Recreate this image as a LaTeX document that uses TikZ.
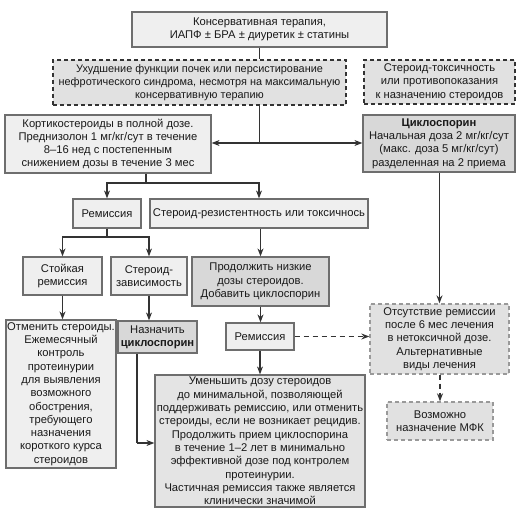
\documentclass[tikz,border=0pt]{standalone}
\usepackage{fontspec}
\setmainfont{Liberation Sans}
\usetikzlibrary{arrows.meta}
\definecolor{lightfill}{HTML}{EFEFEF}
\definecolor{darkfill}{HTML}{D8D8D8}
\definecolor{midfill}{HTML}{E4E4E4}
\definecolor{dashfill}{HTML}{E1E1E1}
\definecolor{bordergray}{HTML}{6E6E6E}
\definecolor{linecol}{HTML}{333333}
\begin{document}
\begin{tikzpicture}[x=1pt,y=-1pt,
  font=\fontsize{11.2}{13.3}\selectfont,
  every node/.style={inner sep=0pt,align=center,text=black!90},
  lbox/.style={draw=bordergray,line width=1.2pt,fill=lightfill},
  dbox/.style={draw=bordergray,line width=1.2pt,fill=darkfill},
  mbox/.style={draw=bordergray,line width=1.2pt,fill=midfill},
  dashbox/.style={draw=linecol,line width=1.3pt,fill=dashfill,dash pattern=on 4pt off 3pt},
  graydash/.style={draw=gray!80,line width=1.3pt,fill=dashfill,dash pattern=on 4pt off 3pt},
  conn/.style={draw=linecol,line width=1.2pt},
  arr/.style={conn,-{Stealth[length=8pt,width=6pt]}},
  darr/.style={arr,dash pattern=on 5pt off 4pt}]
\useasboundingbox (0,0) rectangle (531,519);

\node[lbox,minimum width=255pt,minimum height=35pt] (top) at (259.5,29.5)
  {Консервативная терапия,\\ИАПФ ± БРА ± диуретик ± статины};
\node[dashbox,minimum width=293pt,minimum height=45pt,font=\fontsize{10.9}{13.3}\selectfont] (d1) at (199.5,82.5)
  {Ухудшение функции почек или персистирование\\нефротического синдрома, несмотря на максимальную\\консервативную терапию};
\node[dashbox,minimum width=151pt,minimum height=44pt] (d2) at (439.5,82)
  {Стероид-токсичность\\или противопоказания\\к назначению стероидов};
\node[lbox,minimum width=206pt,minimum height=58pt] (cort) at (108,144)
  {Кортикостероиды в полной дозе.\\Преднизолон 1 мг/кг/сут в течение\\8–16 нед с постепенным\\снижением дозы в течение 3 мес};
\node[dbox,minimum width=152pt,minimum height=57pt] (cyc) at (439,143.5)
  {\textbf{Циклоспорин}\\Начальная доза 2 мг/кг/сут\\(макс. доза 5 мг/кг/сут)\\разделенная на 2 приема};
\node[lbox,minimum width=68pt,minimum height=29pt] (rem1) at (107,213.5) {Ремиссия};
\node[lbox,minimum width=218pt,minimum height=29pt] (res) at (259,213.5) {Стероид-резистентность или токсичнось};
\node[lbox,minimum width=79pt,minimum height=38pt] (stoy) at (62.5,276) {Стойкая\\ремиссия};
\node[lbox,minimum width=76pt,minimum height=38pt] (zav) at (149,276) {Стероид-\\зависимость};
\node[dbox,minimum width=137pt,minimum height=49pt] (cont) at (260.5,281.5)
  {Продолжить низкие\\дозы стероидов.\\Добавить циклоспорин};
\node[lbox,minimum width=110pt,minimum height=148pt] (otm) at (61,394)
  {Отменить стероиды.\\Ежемесячный\\контроль\\протеинурии\\для выявления\\возможного\\обострения,\\требующего\\назначения\\короткого курса\\стероидов};
\node[dbox,minimum width=79pt,minimum height=32pt] (naz) at (157.5,337) {Назначить\\\textbf{циклоспорин}};
\node[lbox,minimum width=68pt,minimum height=27pt] (rem2) at (260,336.5) {Ремиссия};
\node[graydash,minimum width=139pt,minimum height=70pt] (alt) at (439.5,339)
  {Отсутствие ремиссии\\после 6 мес лечения\\в нетоксичной дозе.\\Альтернативные\\виды лечения};
\node[graydash,minimum width=106pt,minimum height=38pt] (mfk) at (440,421) {Возможно\\назначение МФК};
\node[mbox,minimum width=210pt,minimum height=132pt] (bot) at (260,441)
  {Уменьшить дозу стероидов\\до минимальной, позволяющей\\поддерживать ремиссию, или отменить\\стероиды, если не возникает рецидив.\\Продолжить прием циклоспорина\\в течение 1–2 лет в минимально\\эффективной дозе под контролем\\протеинурии.\\Частичная ремиссия также является\\клинически значимой};

\coordinate (j) at (259.5,143);
\coordinate (c1) at (146,183);
\coordinate (c2) at (107,237);
\coordinate (c3) at (137,443);

\draw[conn] (top.south) -- (top.south |- d1.north);
\draw[conn] (d1.south -| j) -- (j);
\draw[arr] (j) -- (j -| cort.east);
\draw[arr] (j) -- (j -| cyc.west);
\draw[conn] (cort.south -| c1) -- (c1);
\draw[arr] (c1) -| (rem1.north);
\draw[arr] (c1) -| (res.north);
\draw[conn] (rem1.south) -- (c2);
\draw[arr] (c2) -| (stoy.north);
\draw[arr] (c2) -| (zav.north);
\draw[arr] (res.south -| cont.north) -- (cont.north);
\draw[arr] (stoy.south) -- (stoy.south |- otm.north);
\draw[arr] (zav.south) -- (zav.south |- naz.north);
\draw[arr] (cont.south) -- (cont.south |- rem2.north);
\draw[arr] (rem2.south) -- (rem2.south |- bot.north);
\draw[darr] (rem2.east) -- (rem2.east -| alt.west);
\draw[arr] (cyc.south -| alt.north) -- (alt.north);
\draw[darr] (alt.south -| mfk.north) -- (mfk.north);
\draw[conn] (naz.south -| c3) -- (c3);
\draw[arr] (c3) -- (c3 -| bot.west);
\end{tikzpicture}
\end{document}
